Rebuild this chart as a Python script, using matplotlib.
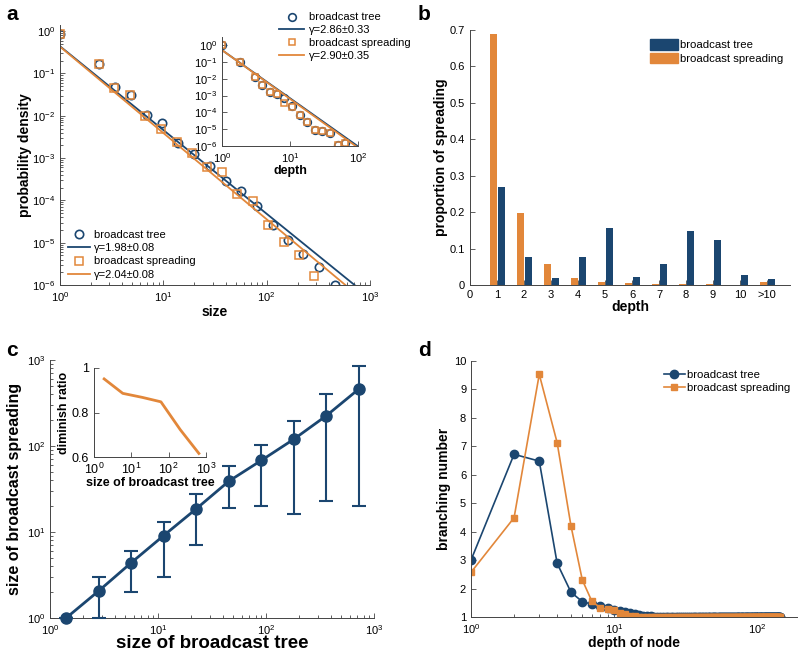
import numpy as np
import matplotlib
matplotlib.use('Agg')
import matplotlib.pyplot as plt
from matplotlib.patches import Patch

plt.rcParams['font.family'] = ['Liberation Sans', 'DejaVu Sans']
plt.rcParams['mathtext.fontset'] = 'custom'
plt.rcParams['mathtext.rm'] = 'Liberation Sans'
plt.rcParams['mathtext.it'] = 'Liberation Sans:italic'
plt.rcParams['mathtext.bf'] = 'Liberation Sans:bold'

BLUE = '#1b4670'
ORANGE = '#e2873a'
AXC = '#444444'

# ------------------------- data --------------------------------

# panel a: size distribution
size_tree = [1, 2.38, 3.4, 4.83, 6.9, 9.8, 14, 19.8, 28.3, 40, 57, 81, 114, 162, 226, 324, 458]
pdf_tree = [0.85, 0.17, 0.047, 0.031, 0.0106, 0.0069, 0.0023, 0.00126, 0.00065, 0.000295,
            0.000164, 7.2e-5, 2.6e-5, 1.15e-5, 5.3e-6, 2.7e-6, 1.0e-6]
size_spread = [1, 2.36, 3.35, 4.75, 6.65, 9.4, 13.5, 18.8, 26.3, 36.8, 52, 74, 104, 146, 206, 288]
pdf_spread = [0.85, 0.17, 0.045, 0.031, 0.0099, 0.005, 0.0024, 0.00134, 0.00062, 0.00047,
              0.000144, 9.5e-5, 2.6e-5, 1.02e-5, 5.2e-6, 1.6e-6]
gamma_size = [1.98, 2.04]
gamma_size_err = [0.08, 0.08]
pref_size = [0.44, 0.43]

# panel a inset: depth distribution
depth_a = [1, 1.86, 3.04, 3.9, 5.05, 6.5, 8.3, 10.8, 13.8, 17.9, 23.4, 30, 39, 50, 64.6]
pdfd_tree = [1.0, 0.1, 0.013, 0.0042, 0.0017, 0.0013, 7.2e-4, 2.5e-4, 6.8e-5, 2.8e-5,
             9e-6, 7.9e-6, 6.3e-6, 1.1e-6, 1.6e-6]
pdfd_spread = [1.0, 0.1, 0.013, 0.0042, 0.0017, 0.0013, 3.4e-4, 2.0e-4, 6.8e-5, 2.8e-5,
               9e-6, 7.9e-6, 6.3e-6, 1.1e-6, 1.6e-6]
gamma_depth = [2.86, 2.90]
gamma_depth_err = [0.33, 0.35]
pref_depth = [0.5, 0.5]

# panel b: proportion by depth
depth_labels = ['0', '1', '2', '3', '4', '5', '6', '7', '8', '9', '10', '>10']
prop_tree = [0.268, 0.077, 0.020, 0.076, 0.157, 0.021, 0.057, 0.147, 0.123, 0.027, 0.016]
prop_spread = [0.690, 0.197, 0.057, 0.018, 0.008, 0.005, 0.003, 0.002, 0.002, 0.001, 0.008]

# panel c: size of spreading vs size of tree
tree_bins = [1.41, 2.83, 5.66, 11.3, 22.6, 45.3, 90.5, 181, 362, 724]
spread_mean = [1.0, 2.07, 4.4, 9.1, 18.6, 39, 68, 120, 225, 460]
spread_lo = [1.0, 1.0, 2.0, 3.0, 7.0, 19, 20, 16, 23, 20]
spread_hi = [1.0, 3.0, 6.0, 13, 28, 58, 104, 194, 400, 850]
ratio_x = [1.87, 5.9, 19.6, 62, 204, 645]
ratio_y = [0.951, 0.886, 0.868, 0.848, 0.723, 0.616]

# panel d: branching number by depth of node
node_depth = list(range(1, 146))
branch_tree = [3.0, 6.72, 6.48, 2.89, 1.87, 1.54, 1.45, 1.39, 1.3, 1.25, 1.2, 1.16, 1.13,
               1.1, 1.07, 1.05, 1.03, 1.02, 1.01] + [1.0] * 126
branch_spread = [2.57, 4.49, 9.53, 7.13, 4.2, 2.3, 1.55, 1.33, 1.27, 1.24, 1.15, 1.09,
                 1.05, 1.02, 1.01] + [1.0] * 130


# ------------------------- helpers --------------------------------
def rect(left, top, right, bottom):
    W, H = 800., 653.
    return [left / W, 1 - bottom / H, (right - left) / W, (bottom - top) / H]


def style(ax, size=8):
    for s in ['top', 'right']:
        ax.spines[s].set_visible(False)
    for s in ['left', 'bottom']:
        ax.spines[s].set_color(AXC)
        ax.spines[s].set_linewidth(0.7)
    ax.tick_params(which='both', direction='in', top=False, right=False,
                   labelsize=size, colors=AXC, labelcolor='black', width=0.6)
    ax.tick_params(which='major', length=3.5)
    ax.tick_params(which='minor', length=2)


fig = plt.figure(figsize=(8, 6.53), dpi=100)

# ------------------------- panel a --------------------------------
ax = fig.add_axes(rect(60, 25, 370, 285))
ax.set_xscale('log')
ax.set_yscale('log')
x_fit = np.array([1.0, 1000.0])
h1, = ax.plot(size_tree, pdf_tree, 'o', mfc='none', mec=BLUE, ms=6, mew=1.2, ls='none')
h2, = ax.plot(x_fit, pref_size[0] * x_fit ** -gamma_size[0], color=BLUE, lw=1.3)
h3, = ax.plot(size_spread, pdf_spread, 's', mfc='none', mec=ORANGE, ms=5.5, mew=1.1, ls='none')
h4, = ax.plot(x_fit, pref_size[1] * x_fit ** -gamma_size[1], color=ORANGE, lw=1.3)
ax.set_xlim(1, 1000)
ax.set_ylim(1e-6, 1.4)
style(ax)
ax.set_xlabel('size', fontsize=10, fontweight='bold', labelpad=1)
ax.set_ylabel('probability density', fontsize=10, fontweight='bold', labelpad=0)
ax.legend([h1, h2, h3, h4],
          ['broadcast tree', '\u03b3=%.2f\u00b1%.2f' % (gamma_size[0], gamma_size_err[0]),
           'broadcast spreading', '\u03b3=%.2f\u00b1%.2f' % (gamma_size[1], gamma_size_err[1])],
          loc='lower left', bbox_to_anchor=(0.0, -0.01), frameon=False, fontsize=8,
          handlelength=2.0, handletextpad=0.4, labelspacing=0.3, borderaxespad=0.3)

# inset a
axi = fig.add_axes(rect(222, 37, 358, 146))
axi.set_xscale('log')
axi.set_yscale('log')
xd = np.array([1.0, 100.0])
g1, = axi.plot(depth_a, pdfd_tree, 'o', mfc='none', mec=BLUE, ms=5.5, mew=1.2, ls='none')
g2, = axi.plot(xd, pref_depth[0] * xd ** -gamma_depth[0], color=BLUE, lw=1.3)
g3, = axi.plot(depth_a, pdfd_spread, 's', mfc='none', mec=ORANGE, ms=5, mew=1.1, ls='none')
g4, = axi.plot(xd, pref_depth[1] * xd ** -gamma_depth[1], color=ORANGE, lw=1.3)
axi.set_xlim(1, 100)
axi.set_ylim(1e-6, 3)
axi.set_yticks([10.0 ** k for k in range(-6, 1)])
axi.minorticks_off()
style(axi, 8)
axi.set_xlabel('depth', fontsize=9, fontweight='bold', labelpad=0)
fig.legend([g1, g2, g3, g4],
           ['broadcast tree', '\u03b3=%.2f\u00b1%.2f' % (gamma_depth[0], gamma_depth_err[0]),
            'broadcast spreading', '\u03b3=%.2f\u00b1%.2f' % (gamma_depth[1], gamma_depth_err[1])],
           loc='upper left', bbox_to_anchor=(275 / 800., 1 - 8 / 653.), frameon=False, fontsize=8,
           handlelength=2.2, handletextpad=0.5, labelspacing=0.25, borderaxespad=0)

# ------------------------- panel b --------------------------------
ax = fig.add_axes(rect(470, 30, 790, 285))
xpos = np.arange(1, len(prop_tree) + 1)
ax.bar(xpos - 0.13, prop_spread, width=0.24, color=ORANGE)
ax.bar(xpos + 0.16, prop_tree, width=0.24, color=BLUE)
ax.set_xlim(0, 11.85)
ax.set_ylim(0, 0.7)
ax.set_xticks(range(len(depth_labels)))
ax.set_xticklabels(depth_labels)
ax.set_yticks(np.arange(0, 0.71, 0.1))
ax.set_yticklabels(['0', '0.1', '0.2', '0.3', '0.4', '0.5', '0.6', '0.7'])
style(ax)
ax.set_xlabel('depth', fontsize=10, fontweight='bold', labelpad=0)
ax.set_ylabel('proportion of spreading', fontsize=10, fontweight='bold', labelpad=1)
ax.legend([Patch(color=BLUE), Patch(color=ORANGE)], ['broadcast tree', 'broadcast spreading'],
          loc='upper right', bbox_to_anchor=(1.0, 0.99), frameon=False, fontsize=8.2,
          handlelength=2.4, handleheight=1.0, handletextpad=0.2, labelspacing=0.25,
          borderaxespad=0.2)

# ------------------------- panel c --------------------------------
ax = fig.add_axes(rect(50, 360, 374, 618))
ax.set_xscale('log')
ax.set_yscale('log')
mean = np.array(spread_mean)
yerr = [mean - np.array(spread_lo), np.array(spread_hi) - mean]
ax.errorbar(tree_bins, spread_mean, yerr=yerr, color=BLUE, lw=2, marker='o', ms=8,
            capsize=5, capthick=1.5, elinewidth=1.5, clip_on=False, zorder=3)
ax.set_xlim(1, 1000)
ax.set_ylim(1, 1000)
style(ax)
ax.set_xlabel('size of broadcast tree', fontsize=13.5, fontweight='bold', labelpad=-1)
ax.set_ylabel('size of broadcast spreading', fontsize=11.5, fontweight='bold', labelpad=3)

# inset c
axi = fig.add_axes(rect(94, 368, 206, 457))
axi.set_xscale('log')
axi.plot(ratio_x, ratio_y, color=ORANGE, lw=2)
axi.set_xlim(1, 1000)
axi.set_ylim(0.6, 1)
axi.set_yticks([0.6, 0.8, 1.0])
axi.set_yticklabels(['0.6', '0.8', '1'])
axi.set_xticks([1, 10, 100, 1000])
axi.minorticks_off()
style(axi, 9)
axi.set_xlabel('size of broadcast tree', fontsize=9, fontweight='bold', labelpad=0)
axi.set_ylabel('diminish ratio', fontsize=9, fontweight='bold', labelpad=1)

# ------------------------- panel d --------------------------------
ax = fig.add_axes(rect(471, 361, 797, 617))
ax.set_xscale('log')
ax.plot(node_depth, branch_tree, color=BLUE, lw=1.2, marker='o', ms=6, label='broadcast tree')
ax.plot(node_depth, branch_spread, color=ORANGE, lw=1.2, marker='s', ms=5,
        label='broadcast spreading')
ax.set_xlim(1, 190)
ax.set_ylim(1, 10)
ax.set_yticks(range(1, 11))
style(ax)
ax.set_xlabel('depth of node', fontsize=10, fontweight='bold', labelpad=0)
ax.set_ylabel('branching number', fontsize=10, fontweight='bold', labelpad=2)
ax.legend(loc='upper right', bbox_to_anchor=(1.0, 0.99), frameon=False, fontsize=8.2,
          handlelength=1.8, handletextpad=0.2, labelspacing=0.2, borderaxespad=0.2)

# ------------------------- panel letters --------------------------------
for lab, (px, py) in zip('abcd', [(6, 14), (418, 14), (6, 350), (418, 350)]):
    fig.text(px / 800., 1 - py / 653., lab, fontsize=15, fontweight='bold', va='center')

fig.savefig('out.png', dpi=100)
